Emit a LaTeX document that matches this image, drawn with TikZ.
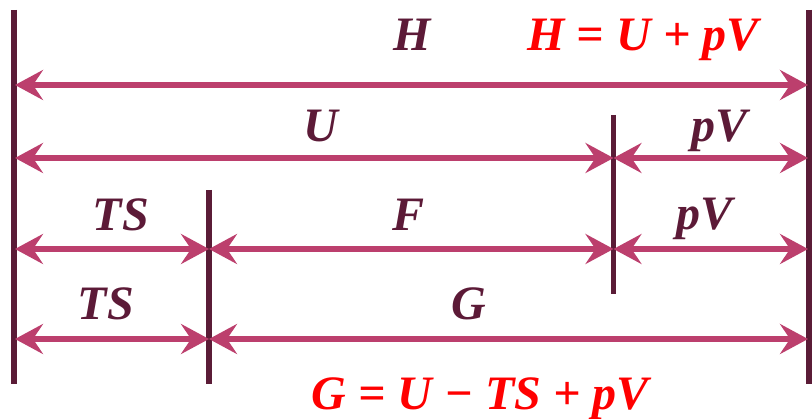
\documentclass[tikz,border=0pt]{standalone}
\usepackage{fontspec}
\setmainfont{Liberation Serif}
\usetikzlibrary{arrows.meta}
\definecolor{barc}{HTML}{5B1C37}
\definecolor{arrc}{HTML}{BC3F6D}
\definecolor{txtc}{HTML}{5C1A37}
\definecolor{redc}{HTML}{FF0000}
\tikzset{
  bar/.style={draw=barc, line width=5.5pt},
  dim/.style={draw=arrc, line width=6pt, {Stealth[length=28pt,width=30pt,inset=10pt]}-{Stealth[length=28pt,width=30pt,inset=10pt]}},
  lbl/.style={anchor=base, inner sep=0pt, text=txtc, font=\fontsize{48}{48}\selectfont\bfseries\itshape},
  eq/.style={anchor=base, inner sep=0pt, text=redc, font=\fontsize{48}{48}\selectfont\bfseries\itshape}
}
\begin{document}
\begin{tikzpicture}[x=1pt,y=-1pt]
\useasboundingbox (0,0) rectangle (812,419);
% bars
\coordinate (LT) at (14,10);  \coordinate (LB) at (14,384);
\coordinate (RT) at (809,10); \coordinate (RB) at (809,384);
\coordinate (MT) at (209,190); \coordinate (MB) at (209,384);
\coordinate (NT) at (613.5,115); \coordinate (NB) at (613.5,294);
\draw[bar] (LT) -- (LB);
\draw[bar] (RT) -- (RB);
\draw[bar] (MT) -- (MB);
\draw[bar] (NT) -- (NB);
% arrow end points
\coordinate (a1) at (15,85);  \coordinate (b1) at (808,85);
\coordinate (a2) at (15,158); \coordinate (c2) at (613.5,158); \coordinate (b2) at (808,158);
\coordinate (a3) at (15,249); \coordinate (m3) at (209,249); \coordinate (c3) at (613.5,249); \coordinate (b3) at (808,249);
\coordinate (a4) at (15,339); \coordinate (m4) at (209,339); \coordinate (b4) at (808,339);
\draw[dim] (a1) -- (b1);
\draw[dim] (a2) -- (c2);
\draw[dim] (c2) -- (b2);
\draw[dim] (a3) -- (m3);
\draw[dim] (m3) -- (c3);
\draw[dim] (c3) -- (b3);
\draw[dim] (a4) -- (m4);
\draw[dim] (m4) -- (b4);
% labels
\node[lbl] (tH) at (412,51) {H};
\node[eq] (eH) at (643,51) {H = U + pV};
\node[lbl] (tU) at (321,142) {U};
\node[lbl] (tpV1) at (720,142) {pV};
\node[lbl] (tTS1) at (121,231) {TS};
\node[lbl] (tF) at (409,231) {F};
\node[lbl] (tpV2) at (705,230) {pV};
\node[lbl] (tTS2) at (106,320) {TS};
\node[lbl] (tG) at (469,320) {G};
\node[eq] (eG) at (480,410) {G = U − TS + pV};
\end{tikzpicture}
\end{document}
